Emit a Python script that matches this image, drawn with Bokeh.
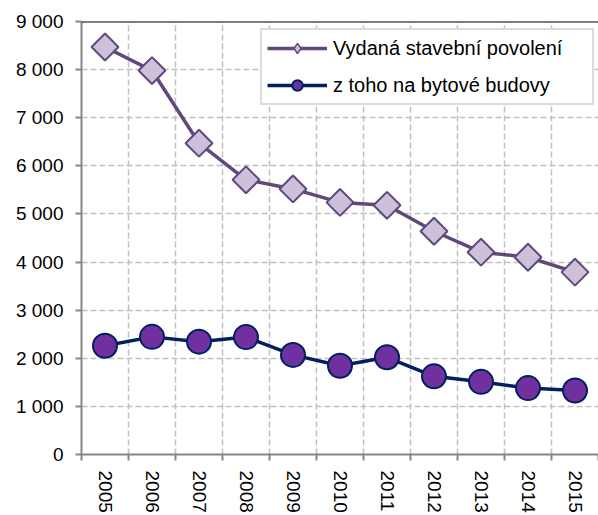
import math
from bokeh.plotting import figure
from bokeh.models import FixedTicker, Range1d, Span, Legend, LegendItem
from bokeh.embed import file_html
from bokeh.resources import INLINE

years = ["2005", "2006", "2007", "2008", "2009", "2010", "2011", "2012", "2013", "2014", "2015"]
permits = [8470, 7980, 6470, 5710, 5520, 5240, 5180, 4640, 4205, 4100, 3790]
residential = [2260, 2445, 2345, 2440, 2070, 1845, 2020, 1625, 1510, 1380, 1330]
y_ticks = [0, 1000, 2000, 3000, 4000, 5000, 6000, 7000, 8000, 9000]
y_tick_labels = ["0", "1 000", "2 000", "3 000", "4 000", "5 000", "6 000", "7 000", "8 000", "9 000"]
series_names = ["Vydaná stavební povolení", "z toho na bytové budovy"]

xs = [i + 0.5 for i in range(len(years))]
bounds = list(range(len(years) + 1))

FONT = "Liberation Sans"

p = figure(width=598, height=515, output_backend="svg", toolbar_location=None,
           x_range=Range1d(0, len(years)), y_range=Range1d(0, 9000),
           min_border_left=81, min_border_top=21, min_border_right=0, min_border_bottom=59)
p.outline_line_color = None
p.background_fill_color = "white"

# grids
p.ygrid.ticker = FixedTicker(ticks=y_ticks)
p.ygrid.grid_line_color = "#c0c0c0"
p.ygrid.grid_line_dash = "6 3"
p.ygrid.grid_line_width = 1.5
p.xgrid.ticker = FixedTicker(ticks=xs, minor_ticks=bounds)
p.xgrid.grid_line_color = None
p.xgrid.minor_grid_line_color = "#c0c0c0"
p.xgrid.minor_grid_line_dash = "6 3"
p.xgrid.minor_grid_line_width = 1.5

# axes
p.yaxis.ticker = FixedTicker(ticks=y_ticks)
p.yaxis.major_label_overrides = {t: l for t, l in zip(y_ticks, y_tick_labels)}
p.yaxis.axis_line_color = "#868686"
p.yaxis.axis_line_width = 2
p.yaxis.major_tick_line_color = "#868686"
p.yaxis.major_tick_line_width = 2
p.yaxis.major_tick_out = 6
p.yaxis.major_tick_in = 0
p.yaxis.minor_tick_line_color = None
p.yaxis.major_label_text_font = FONT
p.yaxis.major_label_text_font_size = "19px"
p.yaxis.major_label_text_color = "black"
p.yaxis.major_label_standoff = 12

p.xaxis.ticker = FixedTicker(ticks=xs, minor_ticks=bounds)
p.xaxis.major_label_overrides = {x: y for x, y in zip(xs, years)}
p.xaxis.major_label_orientation = "vertical"
p.xaxis.axis_line_color = "#868686"
p.xaxis.axis_line_width = 2
p.xaxis.major_tick_line_color = None
p.xaxis.minor_tick_line_color = "#868686"
p.xaxis.minor_tick_line_width = 2
p.xaxis.minor_tick_out = 6
p.xaxis.minor_tick_in = 0
p.xaxis.major_label_text_font = FONT
p.xaxis.major_label_text_font_size = "19px"
p.xaxis.major_label_text_color = "black"
p.xaxis.major_label_standoff = 10

p.add_layout(Span(location=9000, dimension="width", line_color="black", line_width=2))

l1 = p.line(xs, permits, line_color="#60497A", line_width=3.5)
m1 = p.scatter(xs, permits, marker="square", size=19, angle=math.pi / 4,
               fill_color="#CCC0DA", line_color="#60497A", line_width=2)
# legend-only diamond glyph (zero size in plot)
m1_leg = p.scatter(xs, permits, marker="diamond", size=0, fill_color="#CCC0DA",
                   line_color="#60497A", line_width=1.5)
l2 = p.line(xs, residential, line_color="#002060", line_width=3.5)
m2 = p.scatter(xs, residential, marker="circle", size=24, fill_color="#7030A0",
               line_color="#002060", line_width=2)

legend = Legend(items=[LegendItem(label=series_names[0], renderers=[l1, m1_leg]),
                       LegendItem(label=series_names[1], renderers=[l2, m2])],
                location=(179, 349))
legend.label_text_font = FONT
legend.label_text_font_size = "20px"
legend.label_text_color = "black"
legend.glyph_width = 60
legend.glyph_height = 26
legend.spacing = 11
legend.padding = 5
legend.label_standoff = 6
legend.label_width = 254
legend.border_line_color = "#b8b8b8"
legend.border_line_width = 2
legend.background_fill_color = "white"
legend.background_fill_alpha = 1
p.add_layout(legend)

open("out.html", "w").write(file_html(p, INLINE))
